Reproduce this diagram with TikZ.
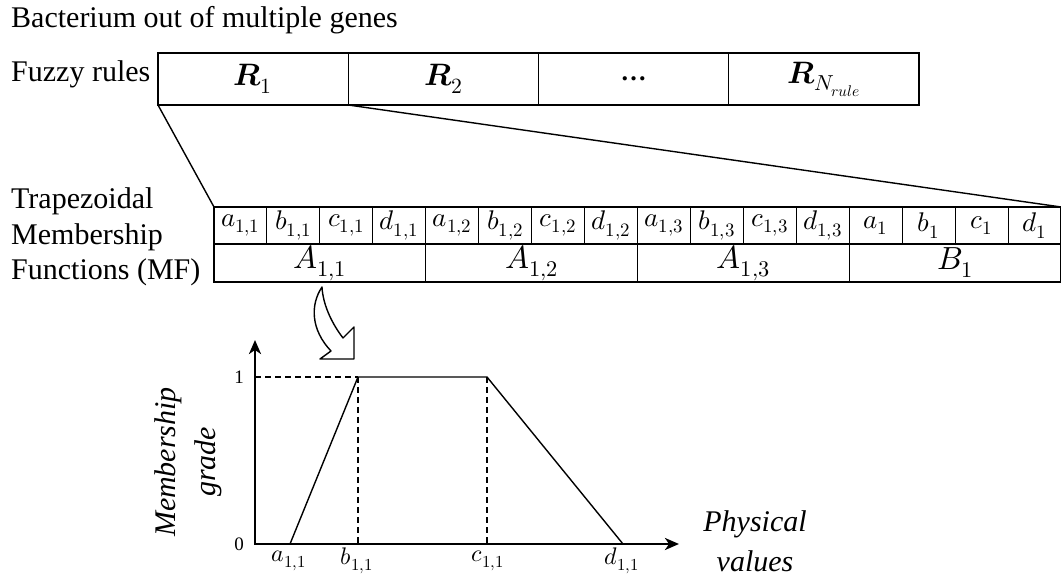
\documentclass[tikz,border=0pt]{standalone}
\usepackage{amsmath}
\usepackage{fontspec}
\usepackage{unicode-math}
\setmainfont{Liberation Serif}
\setmathfont{Latin Modern Math}
\usetikzlibrary{arrows.meta}
\begin{document}
\begin{tikzpicture}[x=1pt,y=-1pt,
  lbl/.style={font=\fontsize{30}{35}\selectfont, inner sep=0},
  rulecell/.style={draw, line width=1.3pt, minimum width=190.25pt, minimum height=52pt, inner sep=0, outer sep=0, anchor=north west, font=\fontsize{31}{34}\selectfont},
  smallcell/.style={draw, line width=1.1pt, minimum width=52.94pt, minimum height=37pt, inner sep=0, outer sep=0, anchor=north west, font=\fontsize{27}{30}\selectfont},
  bigcell/.style={draw, line width=1.1pt, minimum width=211.75pt, minimum height=38pt, inner sep=0, outer sep=0, anchor=north west, font=\fontsize{32}{34}\selectfont},
  conn/.style={line width=1.4pt},
  axis/.style={line width=2.6pt, {Stealth[length=14pt,width=12pt,inset=4pt]}-{Stealth[length=14pt,width=12pt,inset=4pt]}},
  trap/.style={line width=1.4pt, line join=miter},
  guide/.style={line width=1.3pt, dash pattern=on 6pt off 4pt},
  tick/.style={font=\fontsize{19}{22}\selectfont, inner sep=0},
  xlab/.style={font=\fontsize{24}{26}\selectfont, inner sep=0},
  axtitle/.style={font=\fontsize{30}{40}\selectfont\itshape, inner sep=0, align=center}
]
\useasboundingbox (0,0) rectangle (1061,577);

% titles
\node[lbl, anchor=base west] (title) at (11,28) {Bacterium out of multiple genes};
\node[lbl, anchor=base west] (fr) at (11,82) {Fuzzy rules};
\node[lbl, anchor=base west] (mf1) at (11,209) {Trapezoidal};
\node[lbl, anchor=base west] (mf2) at (11,245) {Membership};
\node[lbl, anchor=base west] (mf3) at (11,280) {Functions (MF)};

% fuzzy rules row
\node[rulecell] (r1) at (158,53) {$\symbfit{R}_1$};
\node[rulecell] (r2) at (r1.north east) {$\symbfit{R}_2$};
\node[rulecell] (r3) at (r2.north east) {\fontsize{26}{30}\selectfont\textbf{\dots}};
\node[rulecell] (r4) at (r3.north east) {$\symbfit{R}_{N_{rule}}$};

% MF row (parameters)
\node[smallcell] (a11) at (214,207) {$a_{1,1}$};
\node[smallcell] (b11) at (a11.north east) {$b_{1,1}$};
\node[smallcell] (c11) at (b11.north east) {$c_{1,1}$};
\node[smallcell] (d11) at (c11.north east) {$d_{1,1}$};
\node[smallcell] (a12) at (d11.north east) {$a_{1,2}$};
\node[smallcell] (b12) at (a12.north east) {$b_{1,2}$};
\node[smallcell] (c12) at (b12.north east) {$c_{1,2}$};
\node[smallcell] (d12) at (c12.north east) {$d_{1,2}$};
\node[smallcell] (a13) at (d12.north east) {$a_{1,3}$};
\node[smallcell] (b13) at (a13.north east) {$b_{1,3}$};
\node[smallcell] (c13) at (b13.north east) {$c_{1,3}$};
\node[smallcell] (d13) at (c13.north east) {$d_{1,3}$};
\node[smallcell] (a1) at (d13.north east) {$a_{1}$};
\node[smallcell] (b1) at (a1.north east) {$b_{1}$};
\node[smallcell] (c1) at (b1.north east) {$c_{1}$};
\node[smallcell] (d1) at (c1.north east) {$d_{1}$};

% MF row (sets)
\node[bigcell] (A11) at (a11.south west) {$A_{1,1}$};
\node[bigcell] (A12) at (A11.north east) {$A_{1,2}$};
\node[bigcell] (A13) at (A12.north east) {$A_{1,3}$};
\node[bigcell] (B1) at (A13.north east) {$B_{1}$};

% zoom connectors
\draw[conn] (r1.south west) -- (a11.north west);
\draw[conn] (r1.south east) -- (d1.north east);

% curved hollow arrow
\draw[line width=1.4pt, fill=white, line join=round]
  (322,287) .. controls (310,305) and (311,330) .. (331,351)
  -- (320,359) -- (354,359) -- (354,327) -- (343,338)
  .. controls (333,325) and (323,306) .. (322,287) -- cycle;

% plot
\coordinate (O) at (255,544);
\coordinate (ytip) at (255,340);
\coordinate (xtip) at (679,544);
\coordinate (pa) at (290,544);
\coordinate (pb) at (358,377);
\coordinate (pc) at (487,377);
\coordinate (pd) at (623,544);
\coordinate (y1) at (255,377);
\coordinate (pbx) at (358,544);
\coordinate (pcx) at (487,544);

\draw[guide] (y1) -- (pb);
\draw[guide] (pb) -- (pbx);
\draw[guide] (pc) -- (pcx);
\draw[trap] (pa) -- (pb) -- (pc) -- (pd);
\draw[axis] (ytip) -- (O) -- (xtip);

\node[tick] (t1) at (239,377) {1};
\node[tick] (t0) at (239,544) {0};
\node[xlab] (la) at (289,561) {$a_{1,1}$};
\node[xlab] (lb) at (357,561) {$b_{1,1}$};
\node[xlab] (lc) at (488,561) {$c_{1,1}$};
\node[xlab] (ld) at (622,561) {$d_{1,1}$};

\node[axtitle] (phys) at (755,541) {Physical\\values};
\node[axtitle, rotate=90] (mg) at (188,462) {Membership\\grade};
\end{tikzpicture}
\end{document}
